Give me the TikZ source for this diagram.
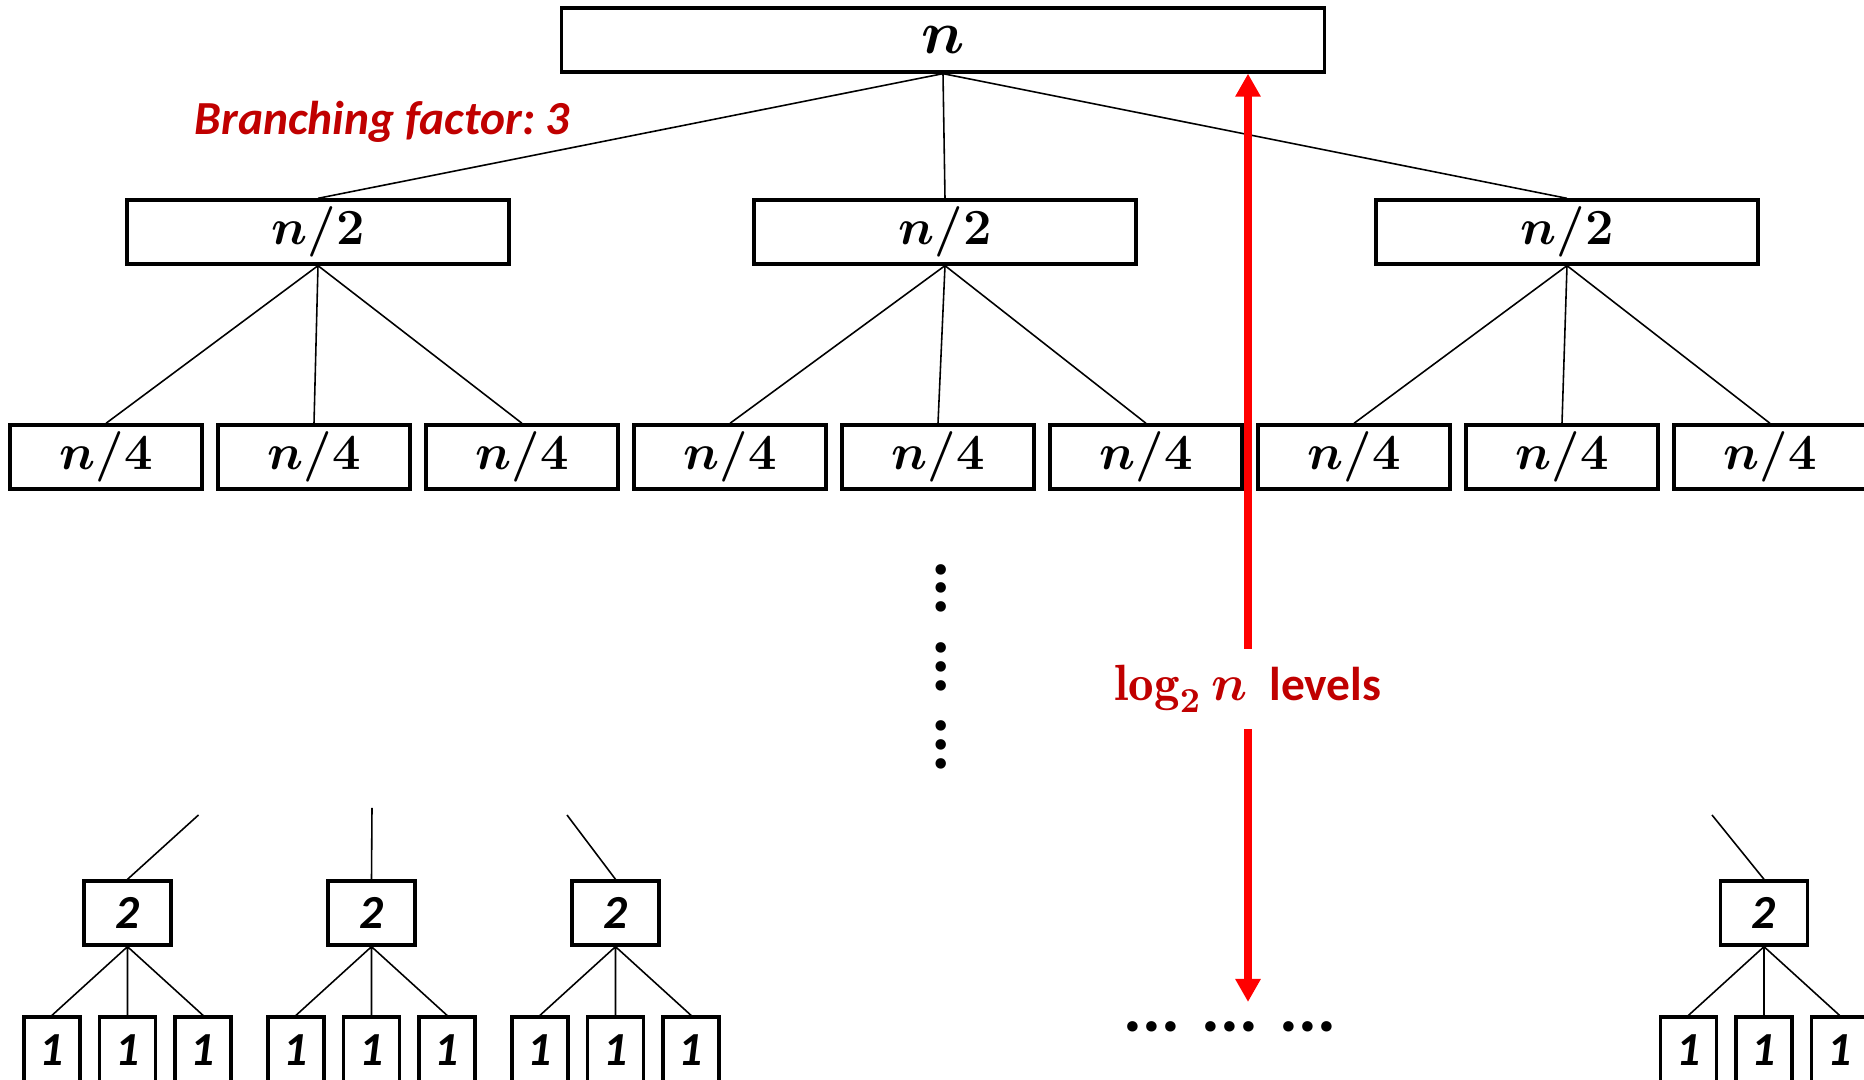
\documentclass[tikz,border=0pt]{standalone}
\usepackage{amsmath,amssymb}
\usepackage{fontspec}
\usepackage{tikz}
\usetikzlibrary{arrows.meta, positioning, calc}
\usepackage{xcolor}
\newfontfamily\carlito{Carlito}
\definecolor{darkred}{HTML}{C00000}
\frenchspacing

\begin{document}
\begin{tikzpicture}[
    sizebox/.style={draw, line width=0.95pt, minimum width=1.92cm, minimum height=0.64cm, inner sep=0pt, font=\boldmath\fontsize{15}{18}\selectfont},
    basebox/.style={draw, line width=0.95pt, minimum width=0.87cm, minimum height=0.64cm, inner sep=0pt, font=\carlito\bfseries\itshape\fontsize{13.5}{16}\selectfont},
    leafbox/.style={basebox, minimum width=0.56cm, minimum height=0.66cm},
    edge/.style={line width=0.45pt},
    note/.style={text=darkred, inner sep=0pt},
    levarrow/.style={-{Triangle[length=0.23cm, width=0.24cm]}, line width=2pt, red},
    dotrow/.style={font=\carlito\bfseries\fontsize{20}{24}\selectfont, inner sep=0pt}
]
    \useasboundingbox (0,0) rectangle (18.64,10.80);

    % root and first split
    \node[sizebox, minimum width=7.63cm, font=\boldmath\fontsize{17}{20}\selectfont] (root) at (9.43, 10.40) {$n$};
    \node[sizebox, minimum width=3.82cm] (h1) at (3.18, 8.48) {$n/2$};
    \node[sizebox, minimum width=3.82cm] (h2) at (9.45, 8.48) {$n/2$};
    \node[sizebox, minimum width=3.82cm] (h3) at (15.67, 8.48) {$n/2$};
    \node[note, anchor=base west, font=\carlito\bfseries\itshape\fontsize{13.5}{16}\selectfont] (bf) at (1.94, 9.45) {Branching factor: 3};

    % second split
    \node[sizebox] (q1) at (1.06, 6.23) {$n/4$};
    \node[sizebox] (q2) at (3.14, 6.23) {$n/4$};
    \node[sizebox] (q3) at (5.22, 6.23) {$n/4$};
    \node[sizebox] (q4) at (7.30, 6.23) {$n/4$};
    \node[sizebox] (q5) at (9.38, 6.23) {$n/4$};
    \node[sizebox] (q6) at (11.46, 6.23) {$n/4$};
    \node[sizebox] (q7) at (13.54, 6.23) {$n/4$};
    \node[sizebox] (q8) at (15.62, 6.23) {$n/4$};
    \node[sizebox] (q9) at (17.70, 6.23) {$n/4$};

    \draw[edge] (root.south) -- (h1.north) (root.south) -- (h2.north) (root.south) -- (h3.north);
    \draw[edge] (h1.south) -- (q1.north) (h1.south) -- (q2.north) (h1.south) -- (q3.north);
    \draw[edge] (h2.south) -- (q4.north) (h2.south) -- (q5.north) (h2.south) -- (q6.north);
    \draw[edge] (h3.south) -- (q7.north) (h3.south) -- (q8.north) (h3.south) -- (q9.north);

    % vertical dots
    \node[dotrow, rotate=-90] (vd1) at (9.41, 4.917) {...};
    \node[dotrow, rotate=-90] (vd2) at (9.41, 4.133) {...};
    \node[dotrow, rotate=-90] (vd3) at (9.41, 3.353) {...};

    % bottom level
    \node[basebox] (p1) at (1.275, 1.67) {2};
    \node[basebox] (p2) at (3.715, 1.67) {2};
    \node[basebox] (p3) at (6.155, 1.67) {2};
    \node[basebox] (p4) at (17.64, 1.67) {2};
    \coordinate (c1) at (1.985, 2.65);
    \coordinate (c2) at (3.72, 2.72);
    \coordinate (c3) at (5.67, 2.65);
    \coordinate (c4) at (17.12, 2.65);
    \draw[edge] (c1) -- (p1.north) (c2) -- (p2.north) (c3) -- (p3.north) (c4) -- (p4.north);

    \node[leafbox] (l11) at (0.52, 0.30) {1};
    \node[leafbox] (l12) at (1.275, 0.30) {1};
    \node[leafbox] (l13) at (2.03, 0.30) {1};
    \node[leafbox] (l21) at (2.96, 0.30) {1};
    \node[leafbox] (l22) at (3.715, 0.30) {1};
    \node[leafbox] (l23) at (4.47, 0.30) {1};
    \node[leafbox] (l31) at (5.40, 0.30) {1};
    \node[leafbox] (l32) at (6.155, 0.30) {1};
    \node[leafbox] (l33) at (6.91, 0.30) {1};
    \node[leafbox] (l41) at (16.885, 0.30) {1};
    \node[leafbox] (l42) at (17.64, 0.30) {1};
    \node[leafbox] (l43) at (18.395, 0.30) {1};

    \draw[edge] (p1.south) -- (l11.north) (p1.south) -- (l12.north) (p1.south) -- (l13.north);
    \draw[edge] (p2.south) -- (l21.north) (p2.south) -- (l22.north) (p2.south) -- (l23.north);
    \draw[edge] (p3.south) -- (l31.north) (p3.south) -- (l32.north) (p3.south) -- (l33.north);
    \draw[edge] (p4.south) -- (l41.north) (p4.south) -- (l42.north) (p4.south) -- (l43.north);

    \node[dotrow] (hd1) at (11.52, 0.53) {...};
    \node[dotrow] (hd2) at (12.30, 0.53) {...};
    \node[dotrow] (hd3) at (13.08, 0.53) {...};

    % height of the tree
    \node[note, minimum height=0.79cm, font=\boldmath\fontsize{14.5}{17}\selectfont] (lvl) at (12.48, 3.91) {$\log_2 n$\hspace{0.22cm}{\carlito\bfseries\fontsize{13.5}{16}\selectfont levels}};
    \coordinate (bot) at (12.48, 0.78);
    \draw[levarrow] (lvl.north) -- (lvl.north |- root.south);
    \draw[levarrow] (lvl.south) -- (bot);
\end{tikzpicture}
\end{document}
